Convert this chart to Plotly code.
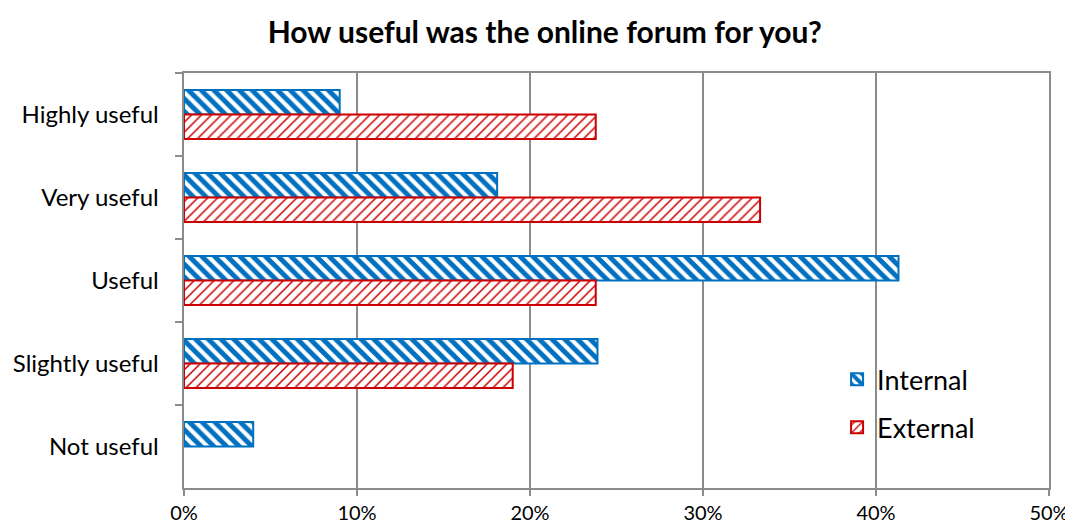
import plotly.graph_objects as go

categories = ["Highly useful", "Very useful", "Useful", "Slightly useful", "Not useful"]
internal = [9.0, 18.1, 41.3, 23.9, 4.0]
external = [23.8, 33.3, 23.8, 19.0, 0.0]
x_ticks = [0, 10, 20, 30, 40, 50]
x_tick_labels = ["0%", "10%", "20%", "30%", "40%", "50%"]

BLUE = "#0070C0"
RED = "#CC0000"
GRID = "#8C8C8C"
FONT = "Lato, Carlito, 'Liberation Sans', sans-serif"


def line_widths(values):
    return [2 if v > 0 else 0 for v in values]


fig = go.Figure()
fig.add_trace(go.Bar(
    y=categories, x=internal, name="Internal", orientation="h",
    legendgroup="int",
    marker=dict(color="white", line=dict(color=BLUE, width=line_widths(internal)),
                pattern=dict(shape="\\", fgcolor=BLUE, bgcolor="white", fgopacity=1,
                             size=9, solidity=0.55)),
))
fig.add_trace(go.Bar(
    y=categories, x=external, name="External", orientation="h",
    legendgroup="ext",
    marker=dict(color="white", line=dict(color=RED, width=line_widths(external)),
                pattern=dict(shape="/", fgcolor=RED, bgcolor="white", fgopacity=1,
                             size=7, solidity=0.22)),
))

# page body has an 8px margin, so the figure is sized/offset to compensate
fig.update_layout(
    width=1065, height=523,
    margin=dict(l=176, r=24, t=65, b=43, autoexpand=False),
    paper_bgcolor="white", plot_bgcolor="white",
    barmode="group", bargap=0.41, bargroupgap=0.0,
    font=dict(family=FONT, size=20, color="#000000"),
    title=dict(text="<b>How useful was the online forum for you?</b>",
               x=0.504, xanchor="center", y=0.954, yanchor="middle",
               font=dict(family=FONT, size=30, color="#000000")),
    legend=dict(x=0.755, y=0.32, xanchor="left", yanchor="top",
                font=dict(family=FONT, size=27, color="#000000"),
                traceorder="grouped", tracegroupgap=10,
                bgcolor="rgba(0,0,0,0)", itemwidth=30),
    showlegend=True,
)
fig.update_xaxes(
    range=[0, 50], tickvals=x_ticks, ticktext=x_tick_labels,
    showgrid=True, gridcolor=GRID, gridwidth=2,
    showline=True, linecolor=GRID, linewidth=2, mirror=True,
    ticks="outside", ticklen=6, tickcolor=GRID, tickwidth=2,
    tickfont=dict(size=20), zeroline=False, automargin=False,
)
fig.update_yaxes(
    categoryorder="array", categoryarray=categories, autorange="reversed",
    showline=True, linecolor=GRID, linewidth=2, mirror=True,
    ticks="outside", ticklen=7, tickcolor=GRID, tickwidth=2,
    tickson="boundaries", ticksuffix="   ",
    tickfont=dict(size=24), showgrid=False, automargin=False,
)

fig.write_html("out.html")
